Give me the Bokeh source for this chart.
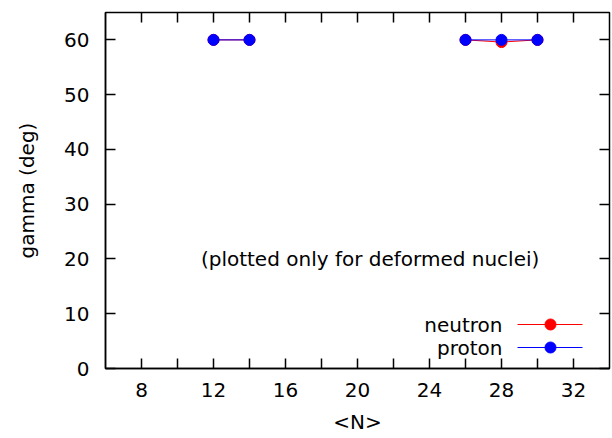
import numpy as np
from bokeh.plotting import figure
from bokeh.models import FixedTicker, LinearAxis, Label, Range1d
from bokeh.embed import file_html
from bokeh.resources import INLINE

# ---- data ----
n_neutron = [12, 14, 26, 28, 30]
gamma_neutron = [60.0, 60.0, 60.0, 59.6, 60.0]
n_proton = [12, 14, 26, 28, 30]
gamma_proton = [60.0, 60.0, 60.0, 60.0, 60.0]
x_ticks = [8, 10, 12, 14, 16, 18, 20, 22, 24, 26, 28, 30, 32]
x_tick_labels = ["8", "", "12", "", "16", "", "20", "", "24", "", "28", "", "32"]
y_ticks = [0, 10, 20, 30, 40, 50, 60]
series_names = ["neutron", "proton"]
note_text = "(plotted only for deformed nuclei)"

FONT = "DejaVu Sans"
FS = "20px"
RED = "#ff0000"
BLUE = "#0000ff"

# frame geometry (pixels on the canvas)
FL, FR, FT, FB = 105, 609, 12, 368


def with_breaks(xs, ys, step=2):
    ox, oy = [], []
    for i, (x, y) in enumerate(zip(xs, ys)):
        if i > 0 and x - xs[i - 1] > step:
            ox.append(np.nan)
            oy.append(np.nan)
        ox.append(x)
        oy.append(y)
    return ox, oy


p = figure(width=612, height=438, output_backend="svg", toolbar_location=None,
           x_range=Range1d(6, 34), y_range=Range1d(0, 65),
           min_border_left=FL, min_border_right=612 - FR, min_border_top=FT,
           min_border_bottom=438 - FB)
p.grid.visible = False
p.background_fill_color = "white"
p.border_fill_color = "white"
p.outline_line_color = "black"
p.outline_line_width = 1.5

ticker_x = FixedTicker(ticks=x_ticks, minor_ticks=[])
ticker_y = FixedTicker(ticks=y_ticks, minor_ticks=[])

for ax in p.xaxis:
    ax.ticker = ticker_x
    ax.major_label_overrides = {t: l for t, l in zip(x_ticks, x_tick_labels)}
    ax.axis_label = "<N>"
    ax.axis_label_standoff = 10
    ax.major_label_standoff = 14
for ax in p.yaxis:
    ax.ticker = ticker_y
    ax.axis_label = "gamma (deg)"
    ax.axis_label_standoff = 22
    ax.major_label_standoff = 16

for ax in list(p.xaxis) + list(p.yaxis):
    ax.major_tick_in = 10
    ax.major_tick_out = 0
    ax.minor_tick_line_color = None
    ax.major_tick_line_width = 1.5
    ax.axis_line_width = 1.5
    ax.major_label_text_font = FONT
    ax.major_label_text_font_size = FS
    ax.major_label_text_color = "black"
    ax.axis_label_text_font = FONT
    ax.axis_label_text_font_size = FS
    ax.axis_label_text_font_style = "normal"
    ax.axis_label_text_color = "black"

# mirrored ticks on top and right (no labels drawn)
top = LinearAxis(ticker=ticker_x, major_tick_in=10, major_tick_out=0,
                 major_label_text_font_size="1px", major_label_text_color=None,
                 major_label_text_alpha=0, axis_line_color=None,
                 major_tick_line_width=1.5, minor_tick_line_color=None,
                 major_label_standoff=0)
right = LinearAxis(ticker=ticker_y, major_tick_in=10, major_tick_out=0,
                   major_label_text_font_size="1px", major_label_text_color=None,
                   major_label_text_alpha=0, axis_line_color=None,
                   major_tick_line_width=1.5, minor_tick_line_color=None,
                   major_label_standoff=0)
p.add_layout(top, "above")
p.add_layout(right, "right")

xn, yn = with_breaks(n_neutron, gamma_neutron)
xp, yp = with_breaks(n_proton, gamma_proton)
p.line(xn, yn, line_color=RED, line_width=1)
p.scatter(n_neutron, gamma_neutron, size=11, fill_color=RED, line_color=RED)
p.line(xp, yp, line_color=BLUE, line_width=1)
p.scatter(n_proton, gamma_proton, size=11, fill_color=BLUE, line_color=BLUE)

p.add_layout(Label(x=20.7, y=20, text=note_text, text_align="center",
                   text_baseline="middle", text_font=FONT, text_font_size=FS,
                   text_color="black"))

# gnuplot-style key (label on the left, sample on the right)
# screen units of a Label are measured from the frame's lower-left corner
key_rows = [(series_names[0], RED, 324), (series_names[1], BLUE, 347)]
for name, col, yc in key_rows:
    p.add_layout(Label(x=502 - FL, y=FB - yc, x_units="screen", y_units="screen",
                       text=name, text_align="right", text_baseline="middle",
                       text_font=FONT, text_font_size=FS, text_color="black"))

# key samples, converted from canvas pixels to data space
sx = (34 - 6) / (FR - FL)
sy = 65.0 / (FB - FT)
x0 = 6 + (517 - FL) * sx
x1 = 6 + (582 - FL) * sx
xm = 6 + (550 - FL) * sx
for (name, col, yc) in key_rows:
    yd = (FB - yc) * sy
    p.line([x0, x1], [yd, yd], line_color=col, line_width=1)
    p.scatter([xm], [yd], size=11, fill_color=col, line_color=col)

open("out.html", "w").write(file_html(p, INLINE))
